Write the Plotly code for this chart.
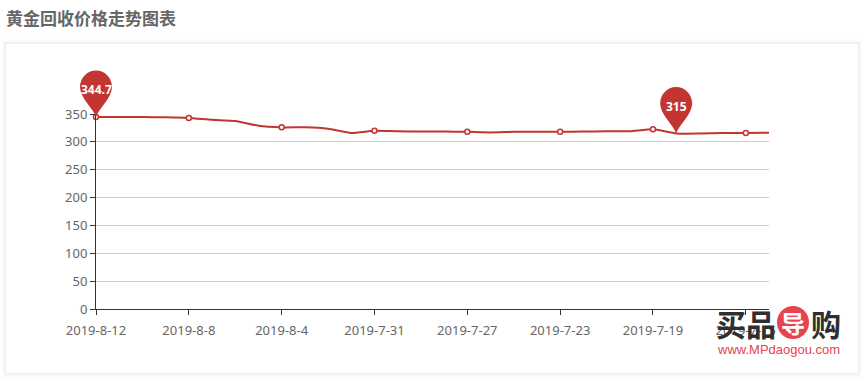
import plotly.graph_objects as go

TITLE = "黄金回收价格走势图表"
dates = ["2019-8-12","2019-8-11","2019-8-10","2019-8-9","2019-8-8","2019-8-7","2019-8-6","2019-8-5",
         "2019-8-4","2019-8-3","2019-8-2","2019-8-1","2019-7-31","2019-7-30","2019-7-29","2019-7-28",
         "2019-7-27","2019-7-26","2019-7-25","2019-7-24","2019-7-23","2019-7-22","2019-7-21","2019-7-20",
         "2019-7-19","2019-7-18","2019-7-17","2019-7-16","2019-7-15","2019-7-14"]
prices = [344.7,344.5,344.5,344,343,339.5,337.5,329,
          326,326,323.5,316,320,319,318.5,318.5,
          318,317,318,318,318,318.5,319,319,
          322.5,315,315,316,316,316.5]
y_ticks = [0,50,100,150,200,250,300,350]
label_every = 4

RED = "#c23531"
W, H = 864, 379
L, R, T, B = 70, 95, 60, 70          # outer plot box
PX0, PY1 = 96, 114                   # visible axes corner
pw, ph = W - L - R, H - T - B
idx_px = (W - R - PX0) / (len(dates) - 1)

def fx(px): return (px - L) / pw
def fy(py): return (H - B - py) / ph

fig = go.Figure()
fig.add_trace(go.Scatter(x=list(range(len(dates))), y=prices, mode="lines",
                         line=dict(color=RED, width=2, shape="spline", smoothing=0.5),
                         hoverinfo="skip", cliponaxis=False))
fig.add_trace(go.Scatter(x=list(range(len(dates)))[::label_every], y=prices[::label_every], mode="markers",
                         marker=dict(color="white", size=5, line=dict(color=RED, width=1.5)),
                         hoverinfo="skip", cliponaxis=False))
# invisible trace keeps the overlay subplot (used by the pins) alive
fig.add_trace(go.Scatter(x=[0], y=[prices[0]], mode="markers", marker=dict(opacity=0),
                         xaxis="x2", yaxis="y2", hoverinfo="skip"))

shapes = []
# card shadow and card
for i, op in zip(range(5, 0, -1), [0.006, 0.009, 0.012, 0.015, 0.02]):
    shapes.append(dict(type="rect", xref="paper", yref="paper", layer="below",
                       x0=fx(6 - i), x1=fx(858 + i), y0=fy(373 + i), y1=fy(44 - i),
                       fillcolor=f"rgba(0,0,0,{op})", line_width=0))
shapes.append(dict(type="rect", xref="paper", yref="paper", layer="below",
                   x0=fx(6), x1=fx(858), y0=fy(373), y1=fy(44), fillcolor="white", line_width=0))
# logo disc
shapes.append(dict(type="circle", xref="paper", yref="paper", layer="above",
                   x0=fx(777), x1=fx(809), y0=fy(339), y1=fy(306), fillcolor="#e8434f", line_width=0))

PIN = "M 0 0 C -3 9 -16 19 -16 30 C -16 39 -9 46.5 0 46.5 C 9 46.5 16 39 16 30 C 16 19 3 9 0 0 Z"
hi = prices.index(max(prices))
lo = prices.index(min(prices))
annotations = []
for i, txt in ((hi, "344.7"), (lo, "315")):
    shapes.append(dict(type="path", xref="x2", yref="y2", xsizemode="pixel", ysizemode="pixel",
                       xanchor=i, yanchor=prices[i], path=PIN, fillcolor=RED, line_width=0, layer="above"))
    annotations.append(dict(x=i, y=prices[i], xref="x2", yref="y2", text=f"<b>{txt}</b>", showarrow=False,
                            xanchor="center", yanchor="middle",
                            yshift=27, font=dict(color="white", size=12, family="Noto Sans")))

def note(px, py, text, size, color, family="Noto Sans CJK SC", xanchor="center"):
    return dict(x=fx(px), y=fy(py), xref="paper", yref="paper", xanchor=xanchor, yanchor="middle",
                text=text, showarrow=False, font=dict(size=size, color=color, family=family))

annotations += [
    note(4, 18, f"<b>{TITLE}</b>", 17, "#666666", xanchor="left"),
    note(746, 323, "<b>买品</b>", 30, "#2f2f2f"),
    note(793, 322, "<b>导</b>", 24, "white"),
    note(826, 323, "<b>购</b>", 30, "#2f2f2f"),
    note(778, 349, "www.MPdaogou.com", 13, "#e8434f", "Liberation Sans"),
]

axis_font = dict(size=13, color="#666666", family="Noto Sans")
fig.update_layout(
    width=W, height=H, margin=dict(l=L, r=R, t=T, b=B, pad=0),
    paper_bgcolor="white", plot_bgcolor="rgba(0,0,0,0)", showlegend=False,
    shapes=shapes, annotations=annotations,
    xaxis=dict(domain=[fx(PX0), 1], range=[0, len(dates) - 1],
               tickmode="array", tickvals=list(range(len(dates)))[::label_every], ticktext=dates[::label_every],
               showgrid=False, zeroline=False, showline=True, linecolor="#333333", linewidth=1,
               ticks="outside", ticklen=5, tickcolor="#333333", tickfont=axis_font, anchor="y",
               ticklabelstandoff=4),
    yaxis=dict(domain=[0, fy(PY1)], range=[0, 350], tickvals=y_ticks,
               showgrid=True, gridcolor="#cccccc", gridwidth=1, zeroline=False,
               showline=True, linecolor="#333333", linewidth=1,
               ticks="outside", ticklen=5, tickcolor="#333333", tickfont=axis_font, anchor="x"),
    xaxis2=dict(domain=[0, 1], visible=False, anchor="y2",
                range=[-(PX0 - L) / idx_px, len(dates) - 1]),
    yaxis2=dict(domain=[0, 1], visible=False, anchor="x2",
                range=[0, 350 / fy(PY1)]),
)
fig.write_html("out.html", config={"displayModeBar": False},
               post_script="document.body.style.margin='0';document.documentElement.style.overflow='hidden';")
